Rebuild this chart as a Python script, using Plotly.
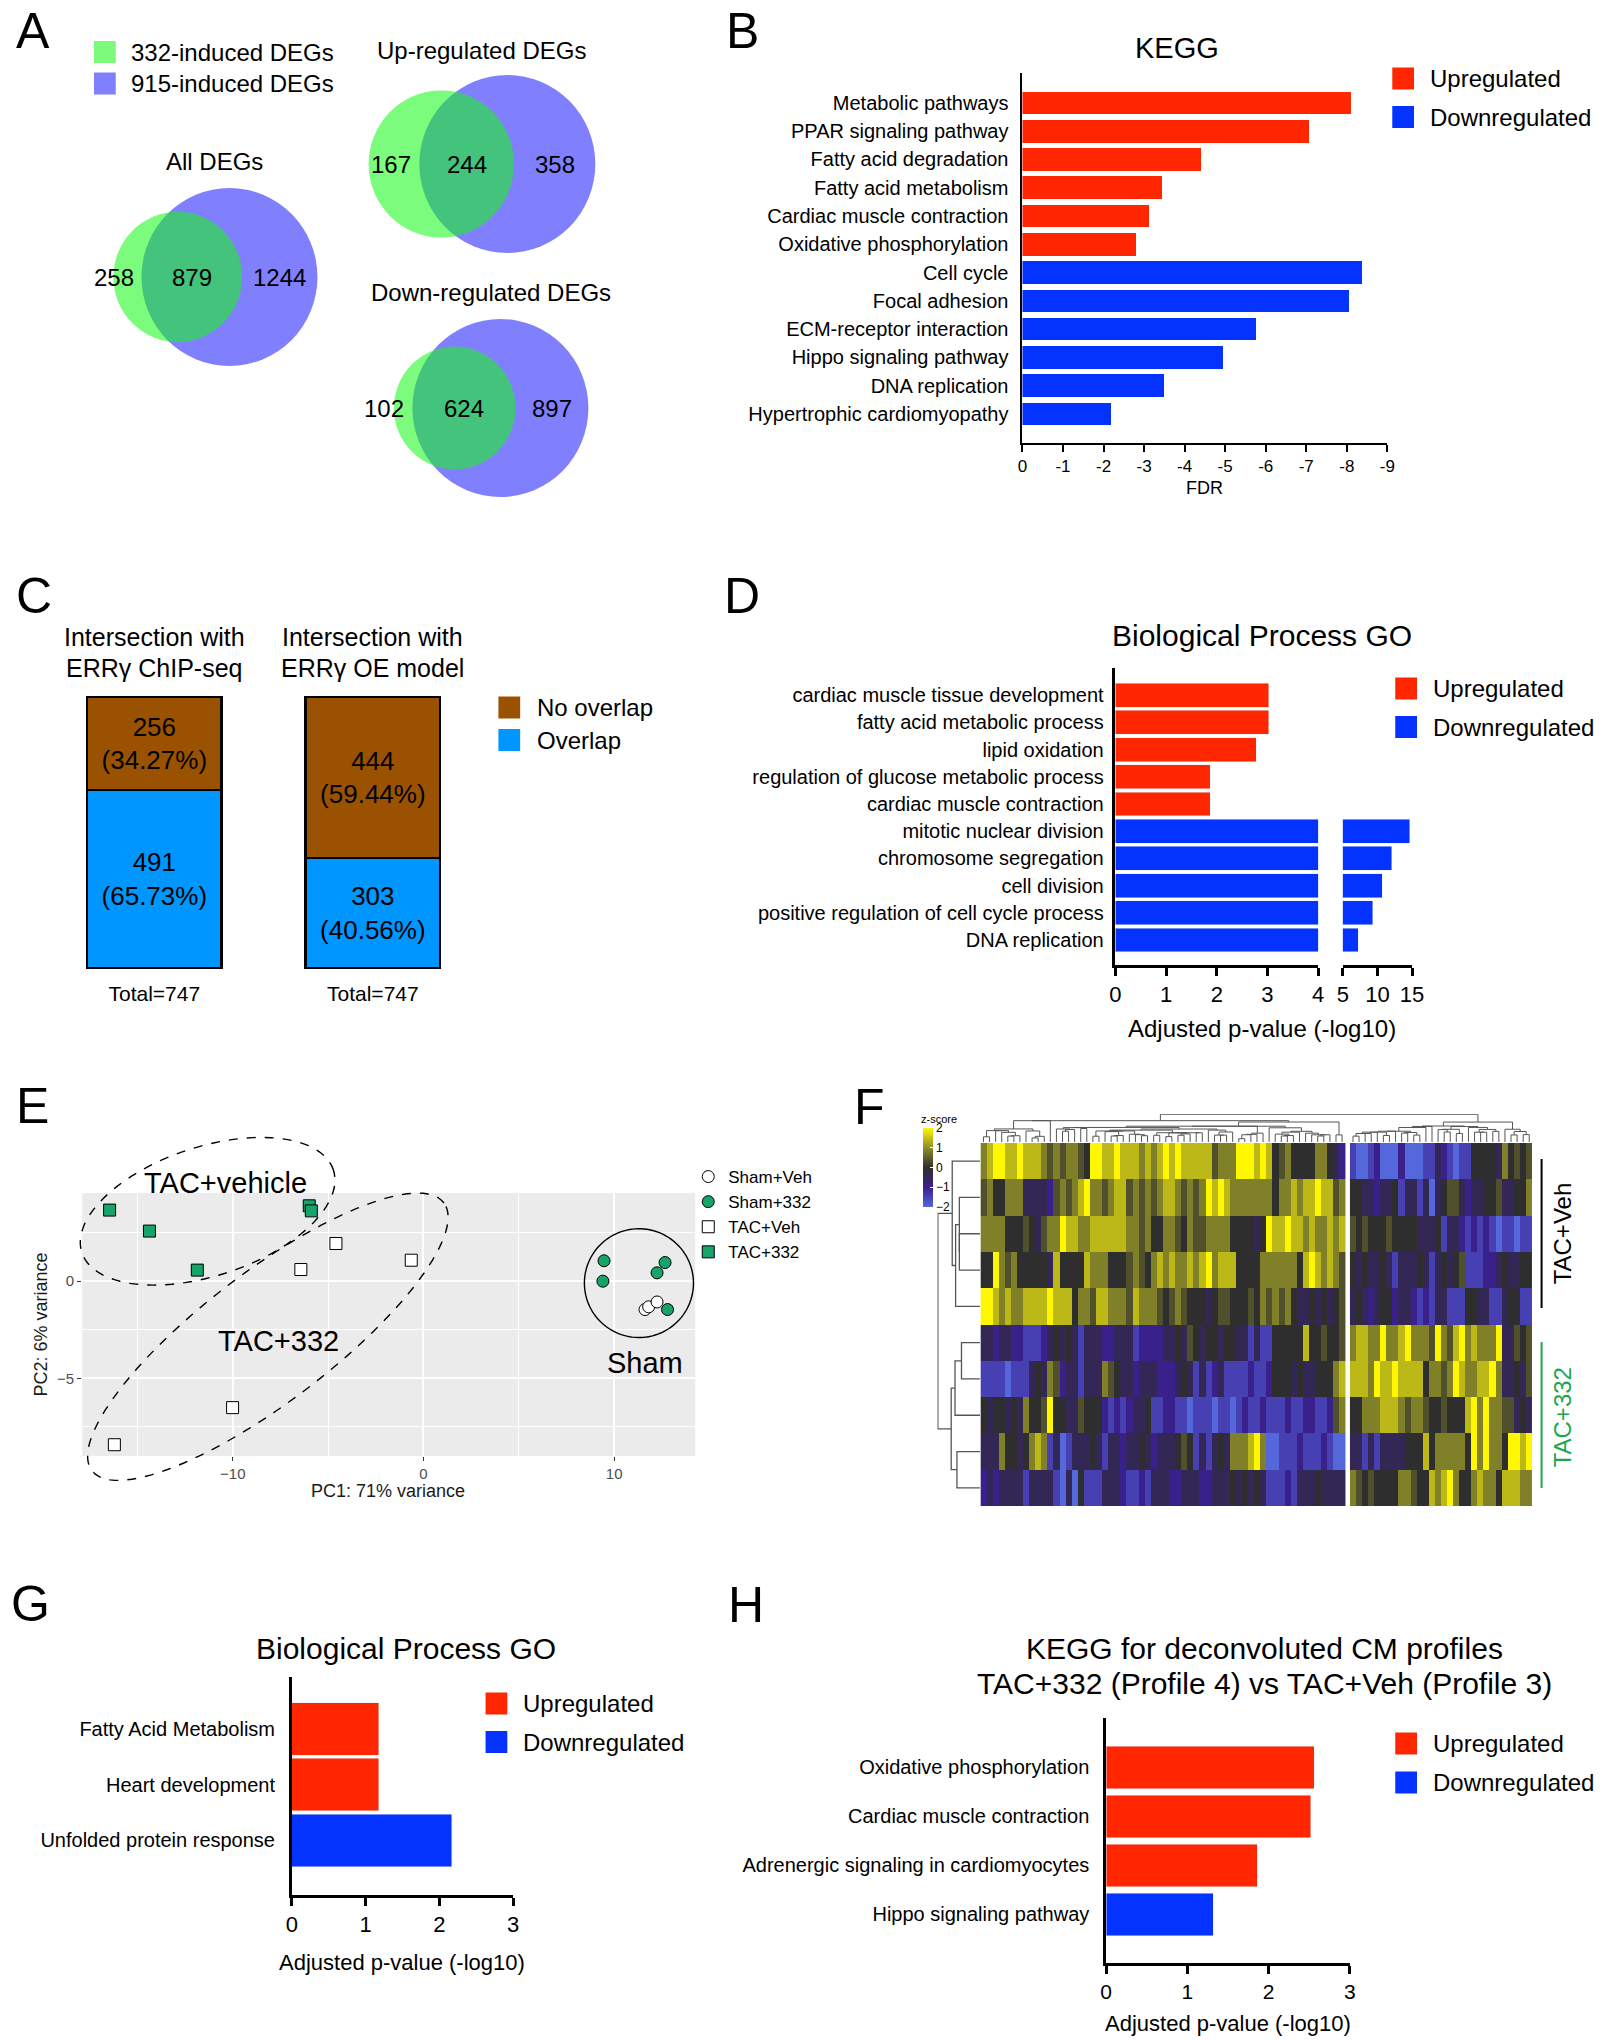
import numpy as np
import plotly.graph_objects as go

W, H = 1605, 2040
FONT = "Liberation Sans, Arial, Helvetica, sans-serif"
RED = "#FF2600"
BLUE = "#0433FF"

# ======================= DATA =======================
# A - Venn diagrams
venn_sets = ["332-induced DEGs", "915-induced DEGs"]
venn_titles = ["All DEGs", "Up-regulated DEGs", "Down-regulated DEGs"]
venn_only_332 = [258, 167, 102]
venn_shared = [879, 244, 624]
venn_only_915 = [1244, 358, 897]

# B - KEGG
kegg_up_terms = ["Metabolic pathways", "PPAR signaling pathway", "Fatty acid degradation",
                 "Fatty acid metabolism", "Cardiac muscle contraction", "Oxidative phosphorylation"]
kegg_up_fdr = [-8.10, -7.07, -4.40, -3.44, -3.12, -2.81]
kegg_down_terms = ["Cell cycle", "Focal adhesion", "ECM-receptor interaction",
                   "Hippo signaling pathway", "DNA replication", "Hypertrophic cardiomyopathy"]
kegg_down_fdr = [-8.38, -8.06, -5.75, -4.94, -3.49, -2.19]
fdr_ticks = [0, -1, -2, -3, -4, -5, -6, -7, -8, -9]
reg_names = ["Upregulated", "Downregulated"]

# C - intersections
c_titles = [["Intersection with", "ERRγ ChIP-seq"], ["Intersection with", "ERRγ OE model"]]
c_groups = ["ERRγ ChIP-seq", "ERRγ OE model"]
c_overlap = [491, 303]
c_no_overlap = [256, 444]
c_names = ["No overlap", "Overlap"]

# D - Biological process GO
go_up_terms = ["cardiac muscle tissue development", "fatty acid metabolic process", "lipid oxidation",
               "regulation of glucose metabolic process", "cardiac muscle contraction"]
go_up_p = [3.03, 3.03, 2.78, 1.87, 1.87]
go_down_terms = ["mitotic nuclear division", "chromosome segregation", "cell division",
                 "positive regulation of cell cycle process", "DNA replication"]
go_down_p = [14.7, 12.1, 10.7, 9.3, 7.2]
d_ticks_low = [0, 1, 2, 3, 4]
d_ticks_high = [5, 10, 15]

# E - PCA
pca_groups = ["Sham+Veh", "Sham+332", "TAC+Veh", "TAC+332"]
pc1_sham_veh = [11.62, 11.81, 12.25]
pc2_sham_veh = [-1.46, -1.32, -1.07]
pc1_sham_332 = [9.47, 9.41, 12.67, 12.25, 12.80]
pc2_sham_332 = [1.05, 0.00, 0.96, 0.43, -1.46]
pc1_tac_veh = [-4.59, -6.43, -0.64, -10.01, -16.21]
pc2_tac_veh = [1.94, 0.60, 1.08, -6.51, -8.42]
pc1_tac_332 = [-16.46, -14.37, -11.86, -5.99, -5.88]
pc2_tac_332 = [3.66, 2.58, 0.57, 3.88, 3.62]

# F - heatmap (z-score read per column strip; code letters -> z)
z_code = {"Y": 2.0, "y": 1.4, "o": 0.85, "d": 0.35, ".": 0.0,
          "g": -0.4, "p": -0.95, "P": -1.45, "B": -2.0}
heat_left_rows = [
    "oyYYyyYyyyododood.YYyyYyyyoyoy" + "YyYyyyyydoooYYYyYy.do....oo.gp",
    "do..oooggggpdodoyYoodoyydododo" + "yyododoYyYyooooooo.ooyoyyYyydo",
    "oooo...d.gdooYyyooyyyyyyoodo.." + "ood.oddoooo....g.YyyYyyoyooyoy",
    "..Yodo.....gy....yooo...dod.oy" + "oyooyoyYoyyy....oooooo.yYyoyod",
    "YYyoyooyyyyYyyy.oodyyooodyoood" + ".dod...g.dd...d.ododo.gg.g.g.d",
    "ggpggppPPPpg.g.gPgggppgggPpppp" + "gg.gd.g..g..ggPgPP.....y..d..d",
    "PPPPBPPPg.godpggPgggod.ggpgggp" + "ppg.gPgPpgPPPPpPPp...g.gg...oy",
    ".g..g.go..dY..ggd...pPpPpgg.PP" + "ppPPBPPPBPPBPpPPpPPPpPPppPPpdo",
    "gggo..g.oyoPgBPggg.gPggpgg.gpg" + "gg.d.PgPg.goooyYoBBPPPpPPPpPBB",
    "pgpggggPggggPBgB.PPPgggpPPpPgg" + "gppgggppggg.g.g.gPPPpPggg.gggg",
]
heat_right_rows = [
    "PBBPpBBBpBBBPPgpPBPP....go.d.d",
    "..ggpgg.PggPgBg.ddgpgg..dgg..o",
    "d.d...d....ggg.PggpPpPpPBPPBPP",
    ".g.gg.gPggg.gPg.g.dPPPppg.gg..",
    "g.gpg..pggpPpPggPPP..ggPPg..PP",
    "oyyooYooyYooodYodyYoyoooYggd.d",
    "yyyoYyyYyyyy.oodoYyooyyYogg.gd",
    "..oooyyyodood..d...yYoYooddg.g",
    "ggPgPgggg...y.ooooo.YoYoo.YYyY",
    "od.d....ood..yoyYo..oyoo.yyyoo",
]
heat_groups = ["TAC+Veh", "TAC+332"]

# G - Biological process GO (CM)
g_up_terms = ["Fatty Acid Metabolism", "Heart development"]
g_up_p = [1.18, 1.18]
g_down_terms = ["Unfolded protein response"]
g_down_p = [2.17]

# H - KEGG deconvoluted
h_up_terms = ["Oxidative phosphorylation", "Cardiac muscle contraction",
              "Adrenergic signaling in cardiomyocytes"]
h_up_p = [2.56, 2.52, 1.86]
h_down_terms = ["Hippo signaling pathway"]
h_down_p = [1.32]
gh_ticks = [0, 1, 2, 3]


# ======================= HELPERS =======================
def dx(a, b):
    return [a / W, b / W]


def dy(top, bottom):
    return [1 - bottom / H, 1 - top / H]


fig = go.Figure()


def note(text, x, y, size, xanchor="center", yanchor="middle", color="black",
         xref="paper", yref="paper", **kw):
    if xref == "paper":
        x = x / W
    if yref == "paper":
        y = 1 - y / H
    fig.add_annotation(text=text, x=x, y=y, xref=xref, yref=yref, showarrow=False,
                       font=dict(size=size, color=color, family=FONT),
                       xanchor=xanchor, yanchor=yanchor, **kw)


def square_legend(labels, colors, x_sq, y_centers, text_x, size=24, sq=22):
    for lab, col, yc in zip(labels, colors, y_centers):
        fig.add_shape(type="rect", xref="paper", yref="paper",
                      x0=x_sq / W, x1=(x_sq + sq) / W,
                      y0=1 - (yc + sq / 2) / H, y1=1 - (yc - sq / 2) / H,
                      fillcolor=col, line=dict(width=0))
        note(lab, text_x, yc, size, xanchor="left")


def bar_xaxis(domain, anchor, rng, tickvals, fsize, ticklen=8, width=2.5):
    return dict(domain=domain, anchor=anchor, range=rng, tickvals=tickvals,
                ticktext=[str(v) for v in tickvals],
                ticks="outside", ticklen=ticklen, tickwidth=width, tickcolor="black",
                showline=True, linewidth=width, linecolor="black", showgrid=False,
                zeroline=False, tickfont=dict(size=fsize, color="black", family=FONT))


def bar_yaxis(domain, anchor, cats, rng, fsize, standoff=8, width=2.5, visible=True):
    return dict(domain=domain, anchor=anchor, type="category", categoryorder="array",
                categoryarray=cats, range=rng, showline=visible, linewidth=width,
                linecolor="black", ticks="", showgrid=False, zeroline=False,
                showticklabels=visible, ticklabelstandoff=standoff,
                tickfont=dict(size=fsize, color="black", family=FONT))


def lens_area(d, r1, r2):
    if d >= r1 + r2:
        return 0.0
    if d <= abs(r1 - r2):
        return np.pi * min(r1, r2) ** 2
    a1 = r1 ** 2 * np.arccos((d * d + r1 * r1 - r2 * r2) / (2 * d * r1))
    a2 = r2 ** 2 * np.arccos((d * d + r2 * r2 - r1 * r1) / (2 * d * r2))
    a3 = 0.5 * np.sqrt((-d + r1 + r2) * (d + r1 - r2) * (d - r1 + r2) * (d + r1 + r2))
    return a1 + a2 - a3


def solve_distance(r1, r2, target):
    lo, hi = abs(r1 - r2), r1 + r2
    for _ in range(80):
        mid = (lo + hi) / 2
        if lens_area(mid, r1, r2) > target:
            lo = mid
        else:
            hi = mid
    return (lo + hi) / 2


def ordered_cluster(vectors, positions):
    clusters = [{"m": [i], "p": positions[i], "h": 0.0} for i in range(len(positions))]
    sp, sh = [], []
    while len(clusters) > 1:
        best_k, best_d = 0, None
        for k in range(len(clusters) - 1):
            A = vectors[clusters[k]["m"]]
            B = vectors[clusters[k + 1]["m"]]
            d = np.sqrt(((A[:, None, :] - B[None, :, :]) ** 2).sum(-1)).mean()
            if best_d is None or d < best_d:
                best_k, best_d = k, d
        a, b = clusters[best_k], clusters[best_k + 1]
        h = max(best_d, a["h"], b["h"])
        sp += [a["p"], a["p"], b["p"], b["p"], None]
        sh += [a["h"], h, h, b["h"], None]
        clusters[best_k:best_k + 2] = [{"m": a["m"] + b["m"], "p": (a["p"] + b["p"]) / 2, "h": h}]
    return sp, sh, clusters[0]


# ======================= PANEL A (Venn) =======================
A_W, A_H = 720, 540
venn_blue_centers = [(226, 277), (507, 164), (500, 408)]
venn_title_pos = [(211, 162), (481, 50), (490, 293)]
R_BIG = 89.0
for i in range(3):
    a_total = venn_only_332[i] + venn_shared[i]
    b_total = venn_only_915[i] + venn_shared[i]
    r_b = R_BIG
    r_a = R_BIG * np.sqrt(a_total / b_total)
    target = venn_shared[i] / b_total * np.pi * r_b ** 2
    d = solve_distance(r_a, r_b, target)
    bx, cy = venn_blue_centers[i]
    gx = bx - d
    fig.add_shape(type="circle", xref="x11", yref="y11", x0=bx - r_b, x1=bx + r_b,
                  y0=cy - r_b, y1=cy + r_b, fillcolor="#8080FF", line=dict(width=0))
    fig.add_shape(type="circle", xref="x11", yref="y11", x0=gx - r_a, x1=gx + r_a,
                  y0=cy - r_a, y1=cy + r_a, fillcolor="rgba(17,250,17,0.55)", line=dict(width=0))
    blue_left = bx - r_b
    green_right = gx + r_a
    note(str(venn_only_332[i]), blue_left - 6, cy, 24, xanchor="right", xref="x11", yref="y11")
    note(str(venn_shared[i]), (blue_left + green_right) / 2, cy, 24, xref="x11", yref="y11")
    note(str(venn_only_915[i]), (green_right + bx + r_b) / 2, cy, 24, xref="x11", yref="y11")
    note(venn_titles[i], venn_title_pos[i][0], venn_title_pos[i][1], 24)
square_legend(venn_sets, ["#7CFA7C", "#8080FF"], 89, [52, 83.5], 124)

# ======================= PANEL B =======================
b_terms = kegg_up_terms + kegg_down_terms
fig.add_trace(go.Bar(y=kegg_up_terms, x=kegg_up_fdr, orientation="h", width=0.8,
                     marker=dict(color=RED, line=dict(width=0)), name=reg_names[0],
                     showlegend=False, xaxis="x", yaxis="y"))
fig.add_trace(go.Bar(y=kegg_down_terms, x=kegg_down_fdr, orientation="h", width=0.8,
                     marker=dict(color=BLUE, line=dict(width=0)), name=reg_names[1],
                     showlegend=False, xaxis="x", yaxis="y"))
square_legend(reg_names, [RED, BLUE], 1402, [78.5, 117], 1438)

# ======================= PANEL C =======================
c_total = [a + b for a, b in zip(c_overlap, c_no_overlap)]
c_pct_overlap = [100 * a / t for a, t in zip(c_overlap, c_total)]
c_pct_no = [100 * a / t for a, t in zip(c_no_overlap, c_total)]
C_BLUE, C_BROWN = "#0096FF", "#9A5200"
fig.add_trace(go.Bar(x=c_groups, y=c_overlap, width=0.615, name=c_names[1], showlegend=False,
                     marker=dict(color=C_BLUE, line=dict(color="black", width=2.5)),
                     customdata=c_pct_overlap, texttemplate="%{y}<br>(%{customdata:.2f}%)",
                     textposition="inside", insidetextanchor="middle", textangle=0,
                     textfont=dict(size=26, color="black", family=FONT),
                     xaxis="x2", yaxis="y2"))
fig.add_trace(go.Bar(x=c_groups, y=c_no_overlap, width=0.615, name=c_names[0], showlegend=False,
                     marker=dict(color=C_BROWN, line=dict(color="black", width=2.5)),
                     customdata=c_pct_no, texttemplate="%{y}<br>(%{customdata:.2f}%)",
                     textposition="inside", insidetextanchor="middle", textangle=0,
                     textfont=dict(size=26, color="black", family=FONT),
                     xaxis="x2", yaxis="y2"))
square_legend(c_names, [C_BROWN, C_BLUE], 498, [707.5, 740], 535)

# ======================= PANEL D =======================
d_terms = go_up_terms + go_down_terms
for xa, ya in (("x3", "y3"), ("x4", "y4")):
    fig.add_trace(go.Bar(y=go_up_terms, x=go_up_p, orientation="h", width=0.88,
                         marker=dict(color=RED), name=reg_names[0], showlegend=False,
                         xaxis=xa, yaxis=ya))
    fig.add_trace(go.Bar(y=go_down_terms, x=go_down_p, orientation="h", width=0.88,
                         marker=dict(color=BLUE), name=reg_names[1], showlegend=False,
                         xaxis=xa, yaxis=ya))
square_legend(reg_names, [RED, BLUE], 1405, [688.5, 727], 1441)

# ======================= PANEL E =======================
E_XD, E_YD = (77, 697), (1193, 1456)
E_XR, E_YR = (-17.9, 14.25), (-9.0, 4.54)
PCA_GREEN = "#17A46B"
pca_styles = [("circle", "white"), ("circle", PCA_GREEN), ("square", "white"), ("square", PCA_GREEN)]
pca_x = [pc1_sham_veh, pc1_sham_332, pc1_tac_veh, pc1_tac_332]
pca_y = [pc2_sham_veh, pc2_sham_332, pc2_tac_veh, pc2_tac_332]
for name, xs, ys, (sym, col) in zip(pca_groups, pca_x, pca_y, pca_styles):
    fig.add_trace(go.Scatter(x=xs, y=ys, mode="markers", name=name, legendgroup=name,
                             marker=dict(symbol=sym, size=12, color=col,
                                         line=dict(color="black", width=1)),
                             legend="legend", xaxis="x5", yaxis="y5"))


def e_paper(x, y):
    X = E_XD[0] + (x - E_XR[0]) / (E_XR[1] - E_XR[0]) * (E_XD[1] - E_XD[0])
    Y = E_YD[1] - (y - E_YR[0]) / (E_YR[1] - E_YR[0]) * (E_YD[1] - E_YD[0])
    return X, Y


def ellipse_path(cx, cy, a, b, theta_deg):
    t = np.linspace(0, 2 * np.pi, 120)
    th = np.radians(theta_deg)
    xs = cx + a * np.cos(t) * np.cos(th) - b * np.sin(t) * np.sin(th)
    ys = cy + a * np.cos(t) * np.sin(th) + b * np.sin(t) * np.cos(th)
    pts = [e_paper(x, y) for x, y in zip(xs, ys)]
    return "M " + " L ".join(f"{p[0] / W:.5f},{1 - p[1] / H:.5f}" for p in pts) + " Z"


fig.add_shape(type="rect", xref="x5 domain", yref="y5 domain", x0=0, x1=1, y0=0, y1=1,
              fillcolor="#EBEBEB", line=dict(width=0), layer="below")
for (cx, cy, a, b, th, dash) in [(-11.32, 3.6, 6.93, 3.32, 17.7, "dash"),
                                 (-8.16, -2.86, 11.52, 3.37, 36.7, "dash"),
                                 (11.3, -0.1, 2.86, 2.8, 0, "solid")]:
    fig.add_shape(type="path", xref="paper", yref="paper", path=ellipse_path(cx, cy, a, b, th),
                  line=dict(color="black", width=1.4, dash=dash), fillcolor="rgba(0,0,0,0)")
for lab, lx, ly in [("TAC+vehicle", -10.36, 5.05), ("TAC+332", -7.6, -3.1), ("Sham", 11.6, -4.2)]:
    X, Y = e_paper(lx, ly)
    note(lab, X, Y, 29)

# ======================= PANEL F =======================
left_z = np.array([[z_code[c] for c in r] for r in heat_left_rows])
right_z = np.array([[z_code[c] for c in r] for r in heat_right_rows])
n_rows = left_z.shape[0]
left_x = np.arange(left_z.shape[1], dtype=float)
right_x = left_z.shape[1] + 0.8 + np.arange(right_z.shape[1], dtype=float)
rows_y = np.arange(n_rows)
fig.add_trace(go.Heatmap(z=left_z, x=left_x, y=rows_y, coloraxis="coloraxis",
                         xaxis="x6", yaxis="y6", hoverinfo="skip"))
fig.add_trace(go.Heatmap(z=right_z, x=right_x, y=rows_y, coloraxis="coloraxis",
                         xaxis="x6", yaxis="y6", hoverinfo="skip"))

spL, shL, rootL = ordered_cluster(left_z.T, list(left_x))
spR, shR, rootR = ordered_cluster(right_z.T, list(right_x))
dLR = np.sqrt(((left_z.T[:, None, :] - right_z.T[None, :, :]) ** 2).sum(-1)).mean()
h_root = max(dLR, rootL["h"], rootR["h"])
col_p = spL + spR + [rootL["p"], rootL["p"], rootR["p"], rootR["p"], None]
col_h = shL + shR + [rootL["h"], h_root, h_root, rootR["h"], None]
fig.add_trace(go.Scatter(x=col_p, y=col_h, mode="lines", line=dict(color="#555555", width=1),
                         hoverinfo="skip", showlegend=False, xaxis="x8", yaxis="y8"))
all_z = np.hstack([left_z, right_z])
rp, rh, rroot = ordered_cluster(all_z, list(rows_y.astype(float)))
fig.add_trace(go.Scatter(x=rh, y=rp, mode="lines", line=dict(color="#555555", width=1.3),
                         hoverinfo="skip", showlegend=False, xaxis="x7", yaxis="y7"))

fig.add_shape(type="line", xref="paper", yref="paper", x0=1553 / W, x1=1553 / W,
              y0=1 - 1159 / H, y1=1 - 1308 / H, line=dict(color="black", width=2))
fig.add_shape(type="line", xref="paper", yref="paper", x0=1553 / W, x1=1553 / W,
              y0=1 - 1342 / H, y1=1 - 1488 / H, line=dict(color="#1DA650", width=2))
note(heat_groups[0], 1574, 1233, 24, textangle=-90)
note(heat_groups[1], 1574, 1417, 24, textangle=-90, color="#1DA650")
note("z-score", 944, 1119, 11)

# ======================= PANEL G =======================
g_terms = g_up_terms + g_down_terms
fig.add_trace(go.Bar(y=g_up_terms, x=g_up_p, orientation="h", width=0.94, marker=dict(color=RED),
                     name=reg_names[0], showlegend=False, xaxis="x9", yaxis="y9"))
fig.add_trace(go.Bar(y=g_down_terms, x=g_down_p, orientation="h", width=0.94, marker=dict(color=BLUE),
                     name=reg_names[1], showlegend=False, xaxis="x9", yaxis="y9"))
square_legend(reg_names, [RED, BLUE], 485, [1703.5, 1742], 521)

# ======================= PANEL H =======================
h_terms = h_up_terms + h_down_terms
fig.add_trace(go.Bar(y=h_up_terms, x=h_up_p, orientation="h", width=0.87, marker=dict(color=RED),
                     name=reg_names[0], showlegend=False, xaxis="x10", yaxis="y10"))
fig.add_trace(go.Bar(y=h_down_terms, x=h_down_p, orientation="h", width=0.87, marker=dict(color=BLUE),
                     name=reg_names[1], showlegend=False, xaxis="x10", yaxis="y10"))
square_legend(reg_names, [RED, BLUE], 1405, [1743.5, 1782.5], 1441)

# ======================= TEXT: titles, letters, axis titles =======================
for letter, x, y, ya in [("A", 27, 1, "top"), ("B", 745, 1, "top"), ("C", 28, 596, "middle"),
                         ("D", 744, 596, "middle"), ("E", 27, 1106, "middle"),
                         ("F", 873, 1107, "middle"), ("G", 25, 1604, "middle"),
                         ("H", 748, 1605, "middle")]:
    note(letter, x, y, 50, yanchor=ya)
note("KEGG", 1184, 48, 29)
note("FDR", 1212, 488, 18)
for (l1, l2), cx in zip(c_titles, [150, 371]):
    note(l1, cx, 637, 25)
    note(l2, cx, 668, 25)
note("Biological Process GO", 1270, 635, 30)
note("Adjusted p-value (-log10)", 1270, 1028, 24)
note("PC1: 71% variance", 386, 1491, 18, color="#1A1A1A")
note("PC2: 6% variance", 35, 1325, 18, color="#1A1A1A", textangle=-90)
note("Biological Process GO", 405, 1648, 30)
note("Adjusted p-value (-log10)", 400, 1962, 22)
note("KEGG for deconvoluted CM profiles", 1273, 1648, 30)
note("TAC+332 (Profile 4) vs TAC+Veh (Profile 3)", 1273, 1683, 30)
note("Adjusted p-value (-log10)", 1236, 2023, 22)

# ======================= LAYOUT =======================
fig.update_layout(
    width=W, height=H, margin=dict(l=0, r=0, t=0, b=0),
    paper_bgcolor="white", plot_bgcolor="rgba(0,0,0,0)",
    font=dict(family=FONT, color="black"),
    barmode="stack", showlegend=True,
    # B
    xaxis=bar_xaxis(dx(1028, 1397), "y", [0, -9], fdr_ticks, 17, ticklen=7, width=2),
    yaxis=bar_yaxis(dy(73, 443), "x", b_terms, [len(b_terms) - 1 + 1.03, -1.06], 20, width=2),
    # C
    xaxis2=dict(domain=dx(39.5, 481.5), anchor="y2", type="category", categoryorder="array",
                categoryarray=c_groups, range=[-0.5, 1.5], tickvals=c_groups,
                ticktext=[f"Total={t}" for t in c_total], ticks="", showline=False,
                showgrid=False, zeroline=False, ticklabelstandoff=10,
                tickfont=dict(size=21, color="black", family=FONT)),
    yaxis2=dict(domain=dy(696, 969), anchor="x2", range=[-3, max(c_total) + 3], visible=False),
    # D
    xaxis3=bar_xaxis(dx(1122, 1327), "y3", [0, 4], d_ticks_low, 22),
    yaxis3=bar_yaxis(dy(668, 965), "x3", d_terms, [len(d_terms) - 1 + 0.92, -1.0], 20, standoff=5),
    xaxis4=bar_xaxis(dx(1352, 1422), "y4", [5, 15], d_ticks_high, 22),
    yaxis4=bar_yaxis(dy(668, 965), "x4", d_terms, [len(d_terms) - 1 + 0.92, -1.0], 20, visible=False),
    # E
    xaxis5=dict(domain=dx(*E_XD), anchor="y5", range=list(E_XR), tickvals=[-10, 0, 10],
                ticks="outside", ticklen=4, tickcolor="#333333", showline=False,
                showgrid=True, gridcolor="white", gridwidth=1.6, zeroline=False,
                minor=dict(tickvals=[-15, -5, 5], showgrid=True, gridcolor="white", gridwidth=0.8),
                tickfont=dict(size=15, color="#4D4D4D", family=FONT)),
    yaxis5=dict(domain=dy(*E_YD), anchor="x5", range=list(E_YR), tickvals=[-5, 0],
                ticks="outside", ticklen=4, tickcolor="#333333", showline=False,
                showgrid=True, gridcolor="white", gridwidth=1.6, zeroline=False,
                minor=dict(tickvals=[-7.5, -2.5, 2.5], showgrid=True, gridcolor="white", gridwidth=0.8),
                tickfont=dict(size=15, color="#4D4D4D", family=FONT)),
    # F heatmap
    xaxis6=dict(domain=dx(985.5, 1543.6), anchor="y6", range=[-0.5, right_x[-1] + 0.5], visible=False),
    yaxis6=dict(domain=dy(1143, 1506), anchor="x6", range=[n_rows - 0.5, -0.5], visible=False),
    xaxis7=dict(domain=dx(942, 985), anchor="y7", range=[rroot["h"] * 1.01, 0], visible=False),
    yaxis7=dict(domain=dy(1143, 1506), anchor="x7", range=[n_rows - 0.5, -0.5], visible=False),
    xaxis8=dict(domain=dx(985.5, 1543.6), anchor="y8", range=[-0.5, right_x[-1] + 0.5], visible=False),
    yaxis8=dict(domain=dy(1114, 1142), anchor="x8", range=[0, h_root * 1.01], visible=False),
    coloraxis=dict(cmin=-2, cmax=2,
                   colorscale=[[0.0, "#5468DC"], [0.25, "#3B1F8F"], [0.5, "#2E2E2E"],
                               [0.75, "#8E8E28"], [1.0, "#FFF700"]],
                   colorbar=dict(x=927 / W, xanchor="left", y=1 - 1128 / H, yanchor="top",
                                 len=79, lenmode="pixels", thickness=10, thicknessmode="pixels",
                                 xpad=0, ypad=0, outlinewidth=0, tickvals=[-2, -1, 0, 1, 2],
                                 ticks="inside", ticklen=3, tickcolor="white",
                                 tickfont=dict(size=12, color="black", family=FONT))),
    # G
    xaxis9=bar_xaxis(dx(289, 513), "y9", [0, 3], gh_ticks, 22),
    yaxis9=bar_yaxis(dy(1677, 1895), "x9", g_terms, [len(g_terms) - 1 + 0.98, -0.93], 20, standoff=10),
    # H
    xaxis10=bar_xaxis(dx(1112.5, 1359), "y10", [0, 3], gh_ticks, 21),
    yaxis10=bar_yaxis(dy(1718, 1963), "x10", h_terms, [len(h_terms) - 1 + 0.99, -1.01], 20, standoff=10),
    # A (pixel canvas for Venn)
    xaxis11=dict(domain=dx(0, A_W), anchor="y11", range=[0, A_W], visible=False),
    yaxis11=dict(domain=dy(0, A_H), anchor="x11", range=[A_H, 0], visible=False),
    # PCA legend
    legend=dict(x=690 / W, y=1 - 1159 / H, xanchor="left", yanchor="top",
                bgcolor="rgba(0,0,0,0)", tracegroupgap=2, traceorder="normal",
                font=dict(size=17, color="black", family=FONT)),
)

fig.write_html("out.html", config={"displayModeBar": False},
               post_script="document.body.style.margin='0';")
